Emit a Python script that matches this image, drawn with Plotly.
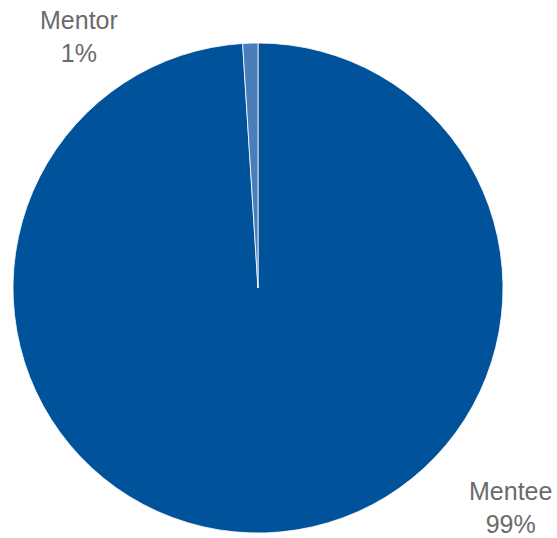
import plotly.graph_objects as go

labels = ["Mentee", "Mentor"]
values = [99, 1]
colors = ["#00529B", "#4A7EBB"]
label_text = ["Mentee<br>99%", "Mentor<br>1%"]

W, H = 557, 538

def px(x, y):
    return x / W, 1 - y / H

fig = go.Figure(go.Pie(
    labels=labels,
    values=values,
    sort=False,
    direction="clockwise",
    rotation=0,
    marker=dict(colors=colors, line=dict(color="white", width=0.8)),
    textinfo="none",
    hoverinfo="label+percent",
    domain=dict(x=[13 / W, 503 / W], y=[1 - 533 / H, 1 - 43 / H]),
    showlegend=False,
))

positions = [(79, 36), (510, 507)]
for txt, (x, y) in zip(label_text[::-1], positions):
    ax, ay = px(x, y)
    fig.add_annotation(
        x=ax, y=ay, xref="paper", yref="paper", text=txt, showarrow=False,
        xanchor="center", yanchor="middle",
        font=dict(family="Liberation Sans, Arial, sans-serif", size=25, color="#6b6b6b"),
    )

fig.update_layout(
    width=W, height=H,
    margin=dict(l=0, r=0, t=0, b=0),
    paper_bgcolor="white", plot_bgcolor="white",
)

fig.write_html(
    "out.html",
    config={"displayModeBar": False},
    post_script="document.body.style.margin='0';document.body.style.overflow='hidden';",
)
